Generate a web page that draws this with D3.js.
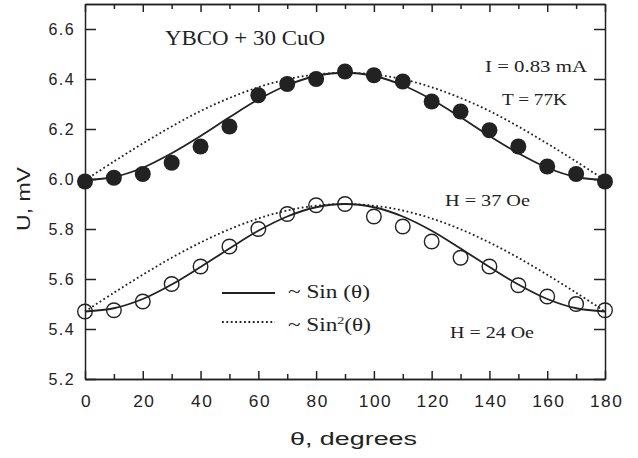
<!DOCTYPE html>
<html>
<head>
<meta charset="utf-8">
<script src="https://cdn.jsdelivr.net/npm/d3@7/dist/d3.min.js"></script>
<style>
 body { margin: 0; background: #fff; }
 .serif { font-family: "Liberation Serif", "Times New Roman", serif; fill: #222; }
 .sans { font-family: "Liberation Sans", Arial, sans-serif; fill: #222; }
</style>
</head>
<body>
<div id="chart"></div>
<script>
var w = 638;
var h = 458;

// angles, degrees
var angles = [0, 10, 20, 30, 40, 50, 60, 70, 80, 90, 100, 110, 120, 130, 140, 150, 160, 170, 180];

// measured points
var h37 = [5.99, 6.005, 6.02, 6.065, 6.13, 6.21, 6.335, 6.38, 6.40, 6.43, 6.415, 6.39, 6.31, 6.27, 6.195, 6.13, 6.05, 6.02, 5.99];
var h24 = [5.47, 5.475, 5.51, 5.58, 5.65, 5.73, 5.80, 5.86, 5.895, 5.90, 5.85, 5.81, 5.75, 5.685, 5.65, 5.575, 5.53, 5.50, 5.475];

// fitted curves
var h37solid = [5.995, 6.008, 6.045, 6.103, 6.172, 6.247, 6.318, 6.375, 6.412, 6.425, 6.412, 6.375, 6.318, 6.247, 6.172, 6.103, 6.045, 6.008, 5.995];
var h37dot = [5.995, 6.07, 6.142, 6.21, 6.272, 6.324, 6.367, 6.399, 6.418, 6.425, 6.418, 6.399, 6.367, 6.324, 6.272, 6.21, 6.142, 6.07, 5.995];
var h24solid = [5.47, 5.483, 5.52, 5.578, 5.648, 5.722, 5.793, 5.85, 5.887, 5.90, 5.887, 5.85, 5.793, 5.722, 5.648, 5.578, 5.52, 5.483, 5.47];
var h24dot = [5.47, 5.545, 5.617, 5.685, 5.746, 5.799, 5.842, 5.874, 5.893, 5.90, 5.893, 5.874, 5.842, 5.799, 5.746, 5.685, 5.617, 5.545, 5.47];

var xMajor = [0, 20, 40, 60, 80, 100, 120, 140, 160, 180];
var xMinor = [10, 30, 50, 70, 90, 110, 130, 150, 170];
var yTicks = [5.2, 5.4, 5.6, 5.8, 6.0, 6.2, 6.4, 6.6];

var svg = d3.select("#chart")
 .append("svg")
 .attr("width", w)
 .attr("height", h);

var pLeft = 85, pRight = 605, pTop = 4, pBottom = 379;

var x = d3.scaleLinear().domain([0, 180]).range([pLeft, pRight]);
var y = d3.scaleLinear().domain([5.2, 6.7]).range([pBottom, pTop]);

var ink = "#222";

function styleAxis(g) {
 g.selectAll("path").attr("stroke", ink).attr("stroke-width", 1.5);
 g.selectAll("line").attr("stroke", ink).attr("stroke-width", 1.5);
 g.selectAll("text")
  .attr("class", "sans")
  .style("font-size", "16px")
  .style("letter-spacing", "1.4px")
  .attr("fill", ink);
}

// bottom axis with labels
svg.append("g")
 .attr("transform", "translate(0," + pBottom + ")")
 .call(d3.axisBottom(x).tickValues(xMajor).tickSize(-8).tickPadding(17).tickSizeOuter(0).tickFormat(d3.format("d")))
 .call(styleAxis)
 .selectAll("text").attr("dx", "1px").attr("transform", "scale(1.08,1)");

svg.append("g")
 .attr("transform", "translate(0," + pBottom + ")")
 .call(d3.axisBottom(x).tickValues(xMinor).tickSize(-5).tickSizeOuter(0).tickFormat(""))
 .call(styleAxis);

// top axis
svg.append("g")
 .attr("transform", "translate(0," + pTop + ")")
 .call(d3.axisTop(x).tickValues(xMajor).tickSize(-8).tickSizeOuter(0).tickFormat(""))
 .call(styleAxis);
svg.append("g")
 .attr("transform", "translate(0," + pTop + ")")
 .call(d3.axisTop(x).tickValues(xMinor).tickSize(-5).tickSizeOuter(0).tickFormat(""))
 .call(styleAxis);

// left axis
svg.append("g")
 .attr("transform", "translate(" + pLeft + ",0)")
 .call(d3.axisLeft(y).tickValues(yTicks).tickSize(-11).tickPadding(10).tickSizeOuter(0).tickFormat(d3.format(".1f")))
 .call(styleAxis);

// right axis
svg.append("g")
 .attr("transform", "translate(" + pRight + ",0)")
 .call(d3.axisRight(y).tickValues(yTicks).tickSize(-11).tickSizeOuter(0).tickFormat(""))
 .call(styleAxis);

// curves
var line = d3.line()
 .x(function(d, i) { return x(angles[i]); })
 .y(function(d) { return y(d); })
 .curve(d3.curveCatmullRom);

[h37dot, h24dot].forEach(function(s) {
 svg.append("path")
  .attr("d", line(s))
  .attr("fill", "none")
  .attr("stroke", ink)
  .attr("stroke-width", 1.8)
  .attr("stroke-dasharray", "1.8,2.6");
});
[h37solid, h24solid].forEach(function(s) {
 svg.append("path")
  .attr("d", line(s))
  .attr("fill", "none")
  .attr("stroke", ink)
  .attr("stroke-width", 1.8);
});

// points
svg.selectAll("circle.open")
 .data(h24)
 .enter()
 .append("circle")
 .attr("class", "open")
 .attr("cx", function(d, i) { return x(angles[i]); })
 .attr("cy", function(d) { return y(d); })
 .attr("r", 7.3)
 .attr("fill", "none")
 .attr("stroke", ink)
 .attr("stroke-width", 1.4);

svg.selectAll("circle.full")
 .data(h37)
 .enter()
 .append("circle")
 .attr("class", "full")
 .attr("cx", function(d, i) { return x(angles[i]); })
 .attr("cy", function(d) { return y(d); })
 .attr("r", 8)
 .attr("fill", ink);

// legend
svg.append("line")
 .attr("x1", 222).attr("x2", 275).attr("y1", 293).attr("y2", 293)
 .attr("stroke", ink).attr("stroke-width", 1.8);
svg.append("line")
 .attr("x1", 222).attr("x2", 275).attr("y1", 322).attr("y2", 322)
 .attr("stroke", ink).attr("stroke-width", 1.8).attr("stroke-dasharray", "1.8,2.6");

// stretch a text sideways so it spans len pixels
function fit(t, x0, y0, len, rot) {
 var nat = t.node().getComputedTextLength();
 var s = len / nat;
 t.attr("transform", "translate(" + x0 + "," + y0 + ")" + (rot ? " rotate(-90)" : "") + " scale(" + s + ",1)");
 return t;
}

function label(txt, x0, y0, size, len) {
 var t = svg.append("text")
  .attr("class", "serif")
  .style("font-size", size + "px")
  .text(txt);
 return fit(t, x0, y0, len);
}

label("~ Sin (\u03b8)", 288, 298, 18, 82);
var sq = svg.append("text")
 .attr("class", "serif")
 .style("font-size", "18px");
sq.append("tspan").text("~ Sin");
sq.append("tspan").attr("dy", -7).style("font-size", "11px").text("2");
sq.append("tspan").attr("dy", 7).text("(\u03b8)");
fit(sq, 288, 331, 83);

label("YBCO + 30 CuO", 165, 45, 20, 160);
label("I = 0.83 mA", 485, 72, 17, 102);
label("T = 77K", 502, 105, 17, 65);
label("H = 37 Oe", 445, 206, 17, 85);
label("H = 24 Oe", 450, 338, 17, 84);

// axis titles
var yt = svg.append("text")
 .attr("class", "sans")
 .attr("x", -32)
 .style("font-size", "18px")
 .text("U, mV");
fit(yt, 30, 199, 64, true);
yt.attr("x", -yt.node().getComputedTextLength() / 2);

var xt = svg.append("text")
 .attr("class", "sans")
 .style("font-size", "19px")
 .text("\u03b8, degrees");
fit(xt, 290, 445, 127);
</script>
</body>
</html>
